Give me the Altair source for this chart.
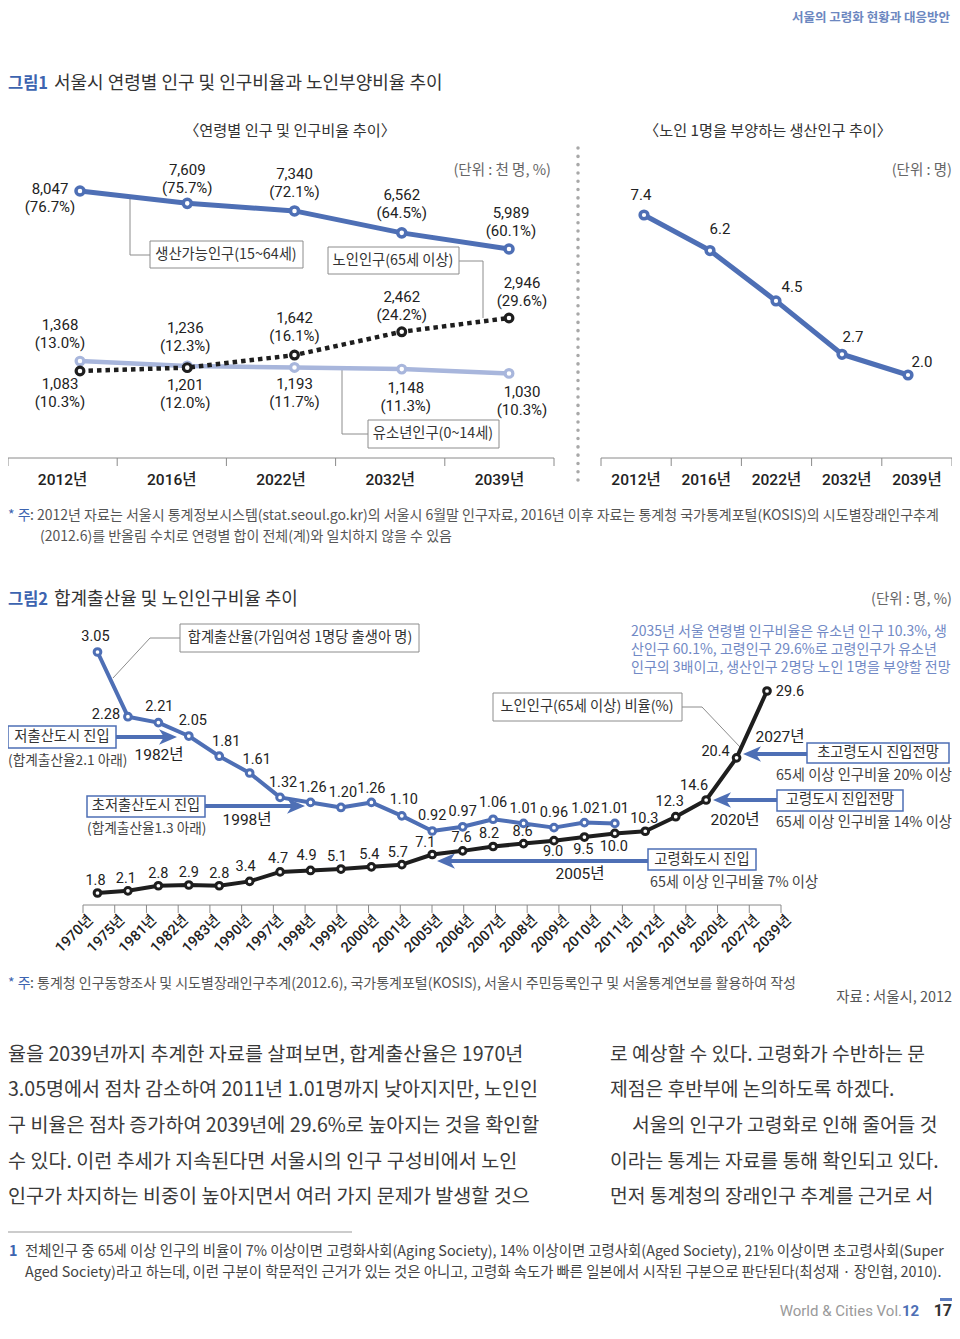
import altair as alt
import pandas as pd

# ---------------- data ----------------
fig1_years = ["2012년", "2016년", "2022년", "2032년", "2039년"]
working_pop = [8047, 7609, 7340, 6562, 5989]
working_pct = [76.7, 75.7, 72.1, 64.5, 60.1]
youth_pop = [1368, 1236, 1193, 1148, 1030]
youth_pct = [13.0, 12.3, 11.7, 11.3, 10.3]
elderly_pop = [1083, 1201, 1642, 2462, 2946]
elderly_pct = [10.3, 12.0, 16.1, 24.2, 29.6]
support_ratio = [7.4, 6.2, 4.5, 2.7, 2.0]

fig2_years = ["1970년", "1975년", "1981년", "1982년", "1983년", "1990년", "1997년", "1998년",
              "1999년", "2000년", "2001년", "2005년", "2006년", "2007년", "2008년", "2009년",
              "2010년", "2011년", "2012년", "2016년", "2020년", "2027년", "2039년"]
fertility = [3.05, 2.28, 2.21, 2.05, 1.81, 1.61, 1.32, 1.26, 1.20, 1.26, 1.10, 0.92, 0.97,
             1.06, 1.01, 0.96, 1.02, 1.01]
elderly_ratio = [1.8, 2.1, 2.8, 2.9, 2.8, 3.4, 4.7, 4.9, 5.1, 5.4, 5.7, 7.1, 7.6, 8.2, 8.6,
                 9.0, 9.5, 10.0, 10.3, 12.3, 14.6, 20.4, 29.6]

body_left = [
    "율을 2039년까지 추계한 자료를 살펴보면, 합계출산율은 1970년",
    "3.05명에서 점차 감소하여 2011년 1.01명까지 낮아지지만, 노인인",
    "구 비율은 점차 증가하여 2039년에 29.6%로 높아지는 것을 확인할",
    "수 있다. 이런 추세가 지속된다면 서울시의 인구 구성비에서 노인",
    "인구가 차지하는 비중이 높아지면서 여러 가지 문제가 발생할 것으",
]
body_right = [
    "로 예상할 수 있다. 고령화가 수반하는 문",
    "제점은 후반부에 논의하도록 하겠다.",
    "서울의 인구가 고령화로 인해 줄어들 것",
    "이라는 통계는 자료를 통해 확인되고 있다.",
    "먼저 통계청의 장래인구 추계를 근거로 서",
]

# ---------------- layout helpers ----------------
W, H = 944, 1314
KR = "Noto Sans CJK KR"
NUM = "Roboto, Noto Sans CJK KR"
BLUE = "#4e6fb5"
LIGHT = "#a8b6dc"
BLACK = "#1e1e1e"
GRAY = "#8c8c8c"
TXT = "#333333"
AX = "#8a8a8a"


def cx(p):
    return min(max(p - 8, 0), W)


def cy(p):
    return min(max(p - 8, 0), H)


def IX():
    return alt.X("x:Q", scale=None, axis=None)


def IY():
    return alt.Y("y:Q", scale=None, axis=None)


def texts(rows, **kw):
    df = pd.DataFrame([{"x": cx(a), "y": cy(b), "t": t} for a, b, t in rows])
    style = dict(baseline="middle", font=KR, color=TXT, align="left")
    style.update(kw)
    return alt.Chart(df).mark_text(**style).encode(x=IX(), y=IY(), text="t:N")


def segments(rows, **kw):
    df = pd.DataFrame([{"x": cx(a), "y": cy(b), "x2": cx(c), "y2": cy(d)} for a, b, c, d in rows])
    return alt.Chart(df).mark_rule(**kw).encode(x=IX(), y=IY(), x2="x2:Q", y2="y2:Q")


def rects(rows, **kw):
    df = pd.DataFrame([{"x": cx(a), "x2": cx(b), "y": cy(c), "y2": cy(d)} for a, b, c, d in rows])
    return alt.Chart(df).mark_rect(**kw).encode(x=IX(), y=IY(), x2="x2:Q", y2="y2:Q")


def heads(rows, shape, **kw):
    df = pd.DataFrame([{"x": cx(a), "y": cy(b)} for a, b in rows])
    return alt.Chart(df).mark_point(shape=shape, filled=True, opacity=1, strokeWidth=0, **kw).encode(x=IX(), y=IY())


def pscale(domain, a, b):
    return alt.Scale(type="point", domain=domain, range=[cx(a), cx(b)], padding=0)


def bscale(domain, a, b):
    return alt.Scale(type="band", domain=domain, range=[cx(a), cx(b)], paddingInner=0, paddingOuter=0)


def lscale(v0, v1, p0, p1):
    return alt.Scale(type="linear", domain=[v0, v1], range=[cy(p0), cy(p1)], zero=False, nice=False)


def series(vals, years, xs, ys, color, sw, dash=None, psize=60, pstroke=3.2,
           labels=None, offsets=None, lab_kw=None):
    df = pd.DataFrame({"year": years[:len(vals)], "v": vals, "i": list(range(len(vals)))})
    enc = dict(x=alt.X("year:N", scale=xs, axis=None), y=alt.Y("v:Q", scale=ys, axis=None))
    lk = dict(color=color, strokeWidth=sw, strokeJoin="round")
    if dash:
        lk["strokeDash"] = dash
    out = [
        alt.Chart(df).mark_line(**lk).encode(order="i:Q", **enc),
        alt.Chart(df).mark_point(shape="circle", filled=True, fill="white", stroke=color,
                                 strokeWidth=pstroke, size=psize, opacity=1).encode(**enc),
    ]
    if labels is not None:
        df = df.assign(lab=labels)
        for k, (dx, dy) in enumerate(offsets):
            out.append(alt.Chart(df).transform_filter(alt.datum.i == k)
                       .mark_text(dx=dx, dy=dy, **lab_kw).encode(text="lab:N", **enc))
    return out


def band_axis(bs, y_line, y_lab, xa, xb):
    df = pd.DataFrame({"year": fig1_years})
    out = [
        alt.Chart(df.head(1)).mark_rule(color=AX, strokeWidth=1).encode(
            x=alt.value(cx(xa)), x2=alt.value(cx(xb)), y=alt.value(cy(y_line))),
        alt.Chart(df).mark_rule(color=AX, strokeWidth=1).encode(
            x=alt.X("year:N", scale=bs, axis=None, bandPosition=0),
            y=alt.value(cy(y_line)), y2=alt.value(cy(y_line + 8))),
        alt.Chart(df.tail(1)).mark_rule(color=AX, strokeWidth=1).encode(
            x=alt.X("year:N", scale=bs, axis=None, bandPosition=1),
            y=alt.value(cy(y_line)), y2=alt.value(cy(y_line + 8))),
        alt.Chart(df).mark_text(font=NUM, fontSize=15.5, color="#222", baseline="middle",
                                fontWeight=500).encode(
            x=alt.X("year:N", scale=bs, axis=None), y=alt.value(cy(y_lab)), text="year:N"),
    ]
    return out


layers = []

# ---------------- page header & titles ----------------
layers.append(texts([(950, 18, "서울의 고령화 현황과 대응방안")], align="right", fontSize=12.5,
                    fontWeight="bold", color="#6c87c0"))
layers.append(texts([(7, 84, "그림1"), (7, 600, "그림2")], fontSize=16.5, fontWeight="bold", color="#3d64b0"))
layers.append(texts([(54, 84, "서울시 연령별 인구 및 인구비율과 노인부양비율 추이"),
                     (54, 600, "합계출산율 및 노인인구비율 추이")], fontSize=18, color=TXT))
layers.append(texts([(290, 131, "〈연령별 인구 및 인구비율 추이〉"),
                     (768, 131, "〈노인 1명을 부양하는 생산인구 추이〉")], align="center", fontSize=15.2, color=TXT))
layers.append(texts([(551, 171, "(단위 : 천 명, %)"), (957, 171, "(단위 : 명)"),
                     (957, 600, "(단위 : 명, %)")], align="right", fontSize=14.5, color="#666"))

# ---------------- figure 1 : left panel ----------------
x1 = pscale(fig1_years, 80, 509)
yw = lscale(5989, 8047, 249, 191)
yy = lscale(1030, 1368, 373.4, 361.1)
ye = lscale(1083, 2946, 371, 318)

# leader lines
layers.append(segments([(130, 195, 130, 255), (130, 255, 150, 255),
                        (459, 261, 483, 261), (483, 261, 483, 318),
                        (368, 434, 342, 434), (342, 434, 342, 369)], color=GRAY, strokeWidth=1))

lab1 = dict(font=NUM, fontSize=15, color="#222", align="center", baseline="top",
            lineBreak="\n", lineHeight=18)
layers += series(youth_pop, fig1_years, x1, yy, LIGHT, 4.5, psize=60, pstroke=3.2,
                 labels=[f"{v:,}\n({p:.1f}%)" for v, p in zip(youth_pop, youth_pct)],
                 offsets=[(-20, -43.6), (-2, -45.4), (0, 10), (4, 11.4), (13, 11.1)], lab_kw=lab1)
layers += series(elderly_pop, fig1_years, x1, ye, BLACK, 4.5, dash=[4.5, 4], psize=60, pstroke=3.2,
                 labels=[f"{v:,}\n({p:.1f}%)" for v, p in zip(elderly_pop, elderly_pct)],
                 offsets=[(-20, 5.5), (-2, 9.9), (0, -43.6), (0, -41.3), (13, -42.5)], lab_kw=lab1)
layers += series(working_pop, fig1_years, x1, yw, BLUE, 5, psize=65, pstroke=3.5,
                 labels=[f"{v:,}\n({p:.1f}%)" for v, p in zip(working_pop, working_pct)],
                 offsets=[(-30, -9.5), (0, -40.8), (0, -44.4), (0, -45.3), (2, -43.5)], lab_kw=lab1)

layers.append(rects([(150, 303, 241, 268), (328, 459, 247, 274), (368, 499, 420, 448)],
                    fill="white", stroke=GRAY, strokeWidth=1))
layers.append(texts([(226, 255, "생산가능인구(15~64세)"), (393, 261, "노인인구(65세 이상)"),
                     (433, 434, "유소년인구(0~14세)")], align="center", fontSize=14.3, color=TXT))
layers += band_axis(bscale(fig1_years, 4, 554), 458, 480, 4, 554)

# separator
layers.append(segments([(578, 148, 578, 480)], color="#a8a8a8", strokeWidth=3.5,
                       strokeDash=[0.1, 8.2], strokeCap="round"))

# ---------------- figure 1 : right panel ----------------
x1r = pscale(fig1_years, 644, 908)
ysr = lscale(2.0, 7.4, 375, 215)
lab_single = dict(font=NUM, fontSize=15, color="#222", align="center", baseline="middle")
layers += series(support_ratio, fig1_years, x1r, ysr, BLUE, 5, psize=60, pstroke=3.5,
                 labels=[f"{v:.1f}" for v in support_ratio],
                 offsets=[(-3, -20), (10, -21.6), (16, -14), (11, -17), (14, -13)], lab_kw=lab_single)
layers += band_axis(bscale(fig1_years, 601, 958), 458, 480, 601, 958)

# ---------------- notes ----------------
layers.append(texts([(7, 516, "* 주"), (7, 984, "* 주")], fontSize=14, color="#3d64b0"))
layers.append(texts([
    (30, 516, ": 2012년 자료는 서울시 통계정보시스템(stat.seoul.go.kr)의 서울시 6월말 인구자료, 2016년 이후 자료는 통계청 국가통계포털(KOSIS)의 시도별장래인구추계"),
    (40, 537, "(2012.6)를 반올림 수치로 연령별 합이 전체(계)와 일치하지 않을 수 있음"),
    (30, 984, ": 통계청 인구동향조사 및 시도별장래인구추계(2012.6), 국가통계포털(KOSIS), 서울시 주민등록인구 및 서울통계연보를 활용하여 작성"),
], fontSize=14, color="#555"))
layers.append(texts([(957, 998, "자료 : 서울시, 2012")], align="right", fontSize=14.4, color="#555"))

# ---------------- figure 2 ----------------
x2 = pscale(fig2_years, 97.5, 767)
yf = lscale(0.92, 3.05, 831, 652)
ye2 = lscale(1.8, 29.6, 893, 691)

layers.append(segments([(180, 638, 150, 638), (150, 638, 113, 678),
                        (682, 707, 702, 707), (702, 707, 740, 747)], color=GRAY, strokeWidth=1))
# arrows
layers.append(segments([(116, 737, 168, 737), (205, 806, 296, 806), (807, 754, 752, 754),
                        (777, 800, 722, 800), (648, 861, 446, 861)], color=BLUE, strokeWidth=4))
RIGHT_HEAD = "M1,0L-1,-0.85L-0.45,0L-1,0.85Z"
LEFT_HEAD = "M-1,0L1,-0.85L0.45,0L1,0.85Z"
layers.append(heads([(168, 737), (296, 806)], RIGHT_HEAD, size=324, color=BLUE))
layers.append(heads([(752, 754), (722, 800), (446, 861)], LEFT_HEAD, size=324, color=BLUE))

lab2 = dict(font=NUM, fontSize=14.5, color="#222", align="center", baseline="middle")
fert_off = [(-2, -15), (-22, -2), (1, -16), (4, -15), (7, -14), (7, -13), (3, -14), (2, -14),
            (2, -14), (0, -13), (2, -16), (0, -15), (0, -15), (0, -16), (0, -14), (0, -15),
            (1, -14), (0, -14)]
eld_off = [(-2, -12), (-2, -12), (0, -12), (0, -12), (0, -12), (-4, -14), (-2, -13), (-4, -14),
           (-4, -12), (-2, -12), (-4, -12), (-7, -11), (-1, -13), (-4, -12), (-1, -12), (-1, 11),
           (-1, 13), (-1, 14), (-1, -12), (-6, -15), (-12, -14), (-21, -6), (23, 1)]
layers += series(elderly_ratio, fig2_years, x2, ye2, BLACK, 4, psize=45, pstroke=3,
                 labels=[f"{v:.1f}" for v in elderly_ratio], offsets=eld_off, lab_kw=lab2)
layers += series(fertility, fig2_years, x2, yf, BLUE, 4, psize=45, pstroke=3,
                 labels=[f"{v:.2f}" for v in fertility], offsets=fert_off, lab_kw=lab2)

layers.append(rects([(180, 419, 624, 652), (493, 682, 693, 721)], fill="white", stroke=GRAY, strokeWidth=1))
layers.append(rects([(8, 116, 726, 748), (87, 205, 796, 817), (807, 949, 743, 763),
                     (777, 903, 790, 811), (648, 756, 849, 870)], fill="white", stroke=BLUE, strokeWidth=1.5))
layers.append(texts([(300, 638, "합계출산율(가임여성 1명당 출생아 명)"), (62, 737, "저출산도시 진입"),
                     (146, 806, "초저출산도시 진입"), (587, 707, "노인인구(65세 이상) 비율(%)"),
                     (878, 753, "초고령도시 진입전망"), (840, 800, "고령도시 진입전망"),
                     (702, 860, "고령화도시 진입")], align="center", fontSize=14.3, color=TXT))
layers.append(texts([(7, 761, "(합계출산율2.1 아래)"), (87, 829, "(합계출산율1.3 아래)")],
                    fontSize=13.7, color="#444"))
layers.append(texts([(650, 883, "65세 이상 인구비율 7% 이상")], fontSize=14.3, color="#444"))
layers.append(texts([(957, 776, "65세 이상 인구비율 20% 이상"), (957, 823, "65세 이상 인구비율 14% 이상")],
                    align="right", fontSize=14.3, color="#444"))
layers.append(texts([(159, 755, "1982년"), (247, 820, "1998년"), (780, 737, "2027년"),
                     (735, 820, "2020년"), (580, 874, "2005년")], align="center", font=NUM,
                    fontSize=15.5, color="#222"))
layers.append(texts([(631, 632, "2035년 서울 연령별 인구비율은 유소년 인구 10.3%, 생"),
                     (631, 650, "산인구 60.1%, 고령인구 29.6%로 고령인구가 유소년"),
                     (631, 668, "인구의 3배이고, 생산인구 2명당 노인 1명을 부양할 전망")],
                    fontSize=14, color="#7189c5"))

# figure 2 x axis
df2 = pd.DataFrame({"year": fig2_years})
layers.append(alt.Chart(df2.head(1)).mark_rule(color=AX, strokeWidth=1).encode(
    x=alt.value(cx(83)), x2=alt.value(cx(781)), y=alt.value(cy(905))))
layers.append(alt.Chart(df2).mark_rule(color=AX, strokeWidth=1).encode(
    x=alt.X("year:N", scale=pscale(fig2_years, 83, 781), axis=None),
    y=alt.value(cy(905)), y2=alt.value(cy(913))))
layers.append(alt.Chart(df2).mark_text(angle=315, align="right", baseline="middle", font=NUM,
                                       fontSize=14.5, color="#222", fontWeight=500).encode(
    x=alt.X("year:N", scale=pscale(fig2_years, 91, 789), axis=None),
    y=alt.value(cy(918)), text="year:N"))

# ---------------- body text ----------------
ys_body = [1055, 1090, 1126, 1162, 1197]
layers.append(texts([(7, y, t) for y, t in zip(ys_body, body_left)], fontSize=19.6, color="#3a3a3a"))
layers.append(texts([(632 if i == 2 else 610, y, t) for i, (y, t) in enumerate(zip(ys_body, body_right))],
                    fontSize=19.3, color="#3a3a3a"))

# footnote
layers.append(segments([(8, 1232, 352, 1232)], color="#999", strokeWidth=1))
layers.append(texts([(9, 1252, "1")], fontSize=14.4, fontWeight="bold", color="#3d64b0"))
layers.append(texts([
    (25, 1252, "전체인구 중 65세 이상 인구의 비율이 7% 이상이면 고령화사회(Aging Society), 14% 이상이면 고령사회(Aged Society), 21% 이상이면 초고령사회(Super"),
    (25, 1273, "Aged Society)라고 하는데, 이런 구분이 학문적인 근거가 있는 것은 아니고, 고령화 속도가 빠른 일본에서 시작된 구분으로 판단된다(최성재 · 장인협, 2010)."),
], fontSize=14.4, color="#444"))

# page footer
layers.append(rects([(940, 952, 1298, 1301)], fill="#5b7cc0"))
layers.append(texts([(902, 1311, "World & Cities Vol.")], align="right", font=NUM, fontSize=15, color="#9a9a9a"))
layers.append(texts([(902, 1311, "12")], font=NUM, fontSize=15, fontWeight="bold", color="#4e6fb5"))
layers.append(texts([(957, 1311, "17")], align="right", font=NUM, fontSize=16, fontWeight="bold", color="#333"))

chart = alt.layer(*layers).resolve_scale(x="independent", y="independent").properties(
    width=W, height=H, padding=0, autosize=alt.AutoSizeParams(type="none"),
    background="white",
).configure_view(stroke=None)

chart.save("out.html", embed_options={"renderer": "svg", "actions": False})
